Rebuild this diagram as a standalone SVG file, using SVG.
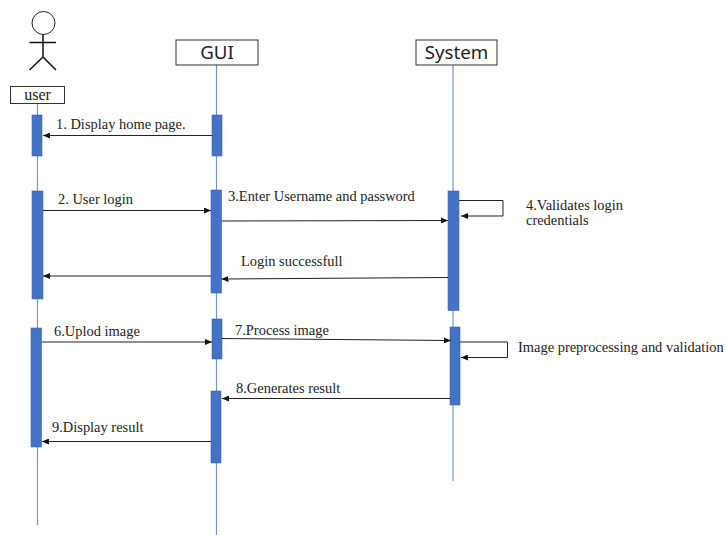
<svg xmlns="http://www.w3.org/2000/svg" width="725" height="535" viewBox="0 0 725 535">
<style>
.life{stroke:#6f97cf;stroke-width:1.2;fill:none}
.bar{fill:#4472c4;stroke:#3f68b2;stroke-width:.6}
.msg{stroke:#222;stroke-width:1;fill:none;marker-end:url(#a)}
.box{fill:#fff;stroke:#333;stroke-width:1}
.t{font-family:"Liberation Serif",serif;font-size:14.450px;fill:#222}
.h{font-family:"Noto Sans","Open Sans",sans-serif;font-size:18.700px;fill:#222;text-anchor:middle}
</style>
<defs><marker id="a" markerWidth="8" markerHeight="6" refX="7" refY="3" orient="auto" markerUnits="userSpaceOnUse"><path d="M0 0L7 3L0 6Z" fill="#111"/></marker></defs>
<rect width="725" height="535" fill="#fff"/>
<g id="lifelines">
<path class="life" d="M37.500 104V525"/><path class="life" d="M216.500 65V535"/><path class="life" d="M453 65V481"/>
</g>
<g id="user">
<circle cx="43.500" cy="23" r="11.500" fill="#fff" stroke="#222" stroke-width="1"/>
<path d="M43 34V57M29.500 42.500H56M43 57L29.500 70M43 57L56 70" fill="none" stroke="#111" stroke-width="1.500"/>
<rect class="box" x="10.500" y="86.500" width="54" height="17"/>
<text x="37.500" y="100" text-anchor="middle" class="t" style="font-size:16px">user</text>
<rect class="bar" x="32" y="115" width="10" height="41"/>
<rect class="bar" x="32" y="191" width="11" height="108"/>
<rect class="bar" x="31" y="328" width="10.500" height="119"/>
</g>
<g id="gui">
<rect class="box" x="176" y="40" width="82" height="25"/>
<text x="217" y="59" class="h">GUI</text>
<rect class="bar" x="212" y="115" width="10" height="41"/>
<rect class="bar" x="211" y="190" width="10.500" height="103"/>
<rect class="bar" x="212" y="319" width="10" height="40"/>
<rect class="bar" x="211" y="391" width="10" height="72"/>
</g>
<g id="system">
<rect class="box" x="416" y="40" width="81" height="25"/>
<text x="456.500" y="59" class="h">System</text>
<rect class="bar" x="448" y="191" width="11" height="119.500"/>
<rect class="bar" x="450" y="327" width="10" height="78"/>
</g>
<g id="connectors">
<path class="msg" d="M212 135.500H43"/>
<path class="msg" d="M43 210.500H211"/>
<path class="msg" d="M221.500 221L448 220.500"/>
<path class="msg" d="M459 200.500H503V216H461"/>
<path class="msg" d="M448 277.500L221.500 279"/>
<path class="msg" d="M211 276H43"/>
<path class="msg" d="M42 342H212"/>
<path class="msg" d="M222 338.500L451 340.500"/>
<path class="msg" d="M460 342H507.500V357.500H461"/>
<path class="msg" d="M450 398.500H222"/>
<path class="msg" d="M211 441.500H42"/>
</g>
<g id="labels">
<text class="t" x="56" y="128.500">1. Display home page.</text>
<text class="t" x="58" y="203.500">2. User login</text>
<text class="t" x="228" y="200.500">3.Enter Username and password</text>
<text class="t" x="526" y="209.500">4.Validates login</text>
<text class="t" x="526" y="225">credentials</text>
<text class="t" x="241" y="265.500">Login successfull</text>
<text class="t" x="54" y="335.500">6.Uplod image</text>
<text class="t" x="235" y="334.500">7.Process image</text>
<text class="t" x="518" y="352">Image preprocessing and validation</text>
<text class="t" x="236" y="392.500">8.Generates result</text>
<text class="t" x="52" y="431.500">9.Display result</text>
</g>
</svg>
